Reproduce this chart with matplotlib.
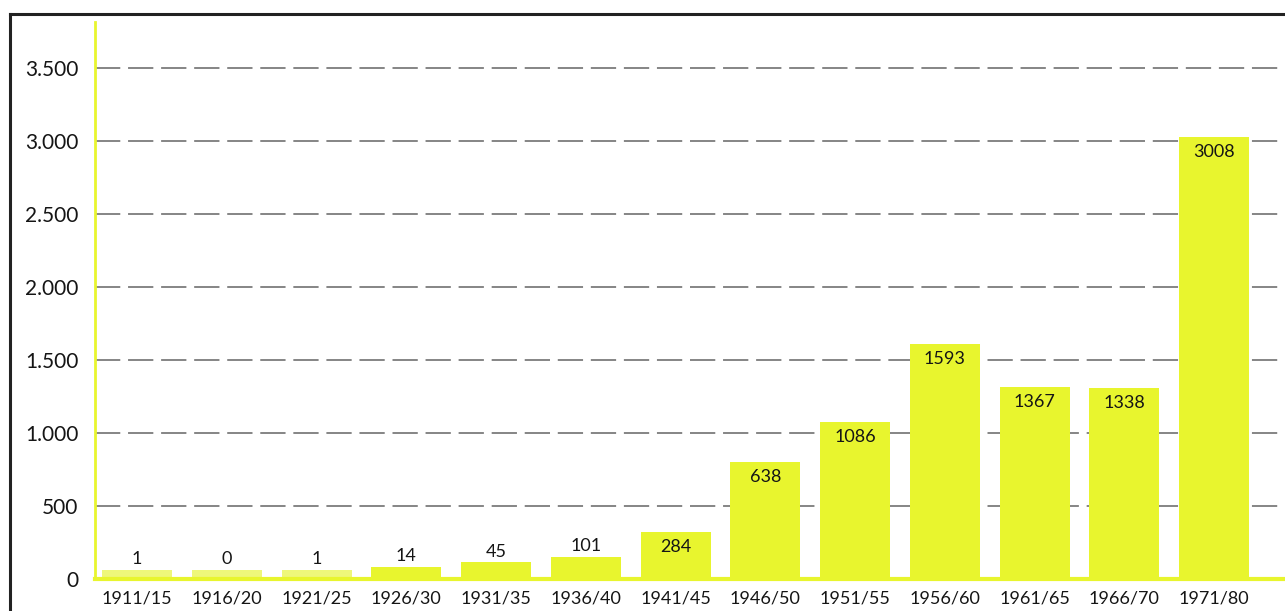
import matplotlib
matplotlib.use("Agg")
import matplotlib.pyplot as plt
from matplotlib.lines import Line2D

periods = ["1911/15", "1916/20", "1921/25", "1926/30", "1931/35", "1936/40", "1941/45",
           "1946/50", "1951/55", "1956/60", "1961/65", "1966/70", "1971/80"]
# printed values above / inside the bars
printed = [1, 0, 1, 14, 45, 101, 284, 638, 1086, 1593, 1367, 1338, 3008]
# bar heights as drawn in the picture (they do not follow the printed numbers exactly)
heights = [60, 60, 60, 84, 114, 153, 320, 799, 1075, 1608, 1317, 1306, 3027]
yticks = [0, 500, 1000, 1500, 2000, 2500, 3000, 3500]
ytick_labels = ["0", "500", "1.000", "1.500", "2.000", "2.500", "3.000", "3.500"]

YELLOW = "#e8f52e"
TEXT = "#151515"
plt.rcParams["font.family"] = ["Lato", "DejaVu Sans"]

fig = plt.figure(figsize=(12.85, 6.11), dpi=100)
ax = fig.add_axes([95 / 1285, 32 / 611, 1 - 95 / 1285, 557 / 611])

xs = list(range(len(periods)))
bars = ax.bar(xs, heights, width=0.78, color=YELLOW, zorder=2)
# the three near-empty bars are printed paler in the scan
for b in bars[:3]:
    b.set_facecolor("#eef77a")

for x, h, v in zip(xs, heights, printed):
    if h < 200:
        ax.annotate(str(v), (x, h), xytext=(0, 2), textcoords="offset points",
                    ha="center", va="bottom", fontsize=13, color=TEXT, zorder=3)
    else:
        ax.annotate(str(v), (x, h), xytext=(0, -5), textcoords="offset points",
                    ha="center", va="top", fontsize=13, color=TEXT, zorder=3)

ax.set_xlim(-0.468, 12.79)
ax.set_ylim(0, 3815)
ax.set_yticks(yticks)
ax.set_yticklabels(ytick_labels, fontsize=15, color=TEXT)
ax.set_xticks(xs)
ax.set_xticklabels(periods, fontsize=13, color=TEXT)
ax.tick_params(axis="both", length=0)
ax.tick_params(axis="y", pad=12)
ax.tick_params(axis="x", pad=8)

ax.yaxis.grid(True, color="#858585", linewidth=1.4, linestyle=(0, (13, 4)), zorder=1)
ax.xaxis.grid(False)
ax.set_axisbelow(True)

for side in ("top", "right"):
    ax.spines[side].set_visible(False)
ax.spines["left"].set_color(YELLOW)
ax.spines["left"].set_linewidth(2)
ax.spines["bottom"].set_color(YELLOW)
ax.spines["bottom"].set_linewidth(3)
ax.spines["bottom"].set_zorder(2.5)

# black frame of the scanned page (top and left edges only)
fig.add_artist(Line2D([10 / 1285, 1], [1 - 14 / 611, 1 - 14 / 611], color="#222222", linewidth=2.2))
fig.add_artist(Line2D([10 / 1285, 10 / 1285], [0, 1 - 14 / 611], color="#222222", linewidth=2.2))

fig.savefig("out.png", dpi=100)
